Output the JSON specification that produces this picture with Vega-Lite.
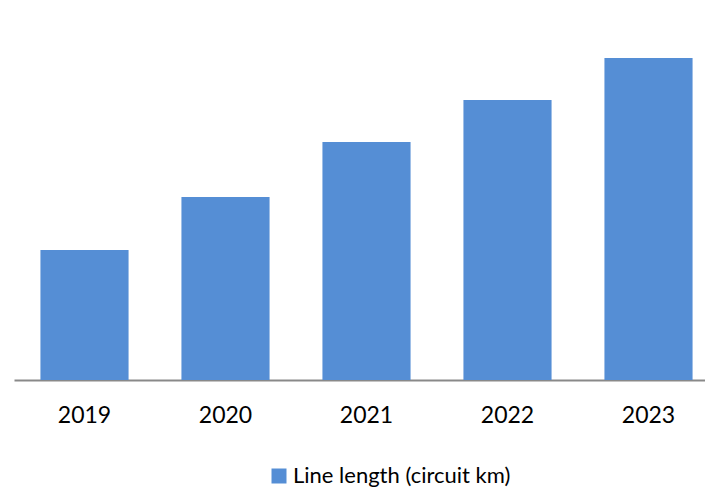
{
  "$schema": "https://vega.github.io/schema/vega-lite/v6.json",
  "autosize": {"type": "none"},
  "width": 692,
  "height": 370,
  "padding": {"left": 13, "top": 10, "right": 0, "bottom": 110},
  "background": "white",
  "config": {"view": {"stroke": null}, "font": "Lato"},
  "data": {"values": [
    {"year": "2019", "series": "Line length (circuit km)", "value": 130},
    {"year": "2020", "series": "Line length (circuit km)", "value": 183},
    {"year": "2021", "series": "Line length (circuit km)", "value": 238},
    {"year": "2022", "series": "Line length (circuit km)", "value": 280},
    {"year": "2023", "series": "Line length (circuit km)", "value": 322}
  ]},
  "mark": {"type": "bar", "color": "#558ED5"},
  "encoding": {
    "x": {"field": "year", "type": "nominal",
      "scale": {"range": [1, 706], "paddingInner": 0.375, "paddingOuter": 0.1875},
      "axis": {"title": null, "labelAngle": 0, "labelFontSize": 23, "labelColor": "#000000", "labelFont": "Lato",
        "domainColor": "#898989", "domainWidth": 2, "ticks": false, "labelPadding": 24}},
    "y": {"field": "value", "type": "quantitative", "scale": {"domain": [0, 370]}, "axis": null},
    "color": {"field": "series", "type": "nominal", "scale": {"range": ["#558ED5"]},
      "legend": {"title": null, "orient": "none", "legendX": 255, "legendY": 455, "symbolType": "square", "symbolSize": 225,
        "labelFontSize": 22, "labelColor": "#000000", "labelFont": "Lato", "symbolStrokeWidth": 0, "labelLimit": 400, "labelOffset": 3}}
  }
}
